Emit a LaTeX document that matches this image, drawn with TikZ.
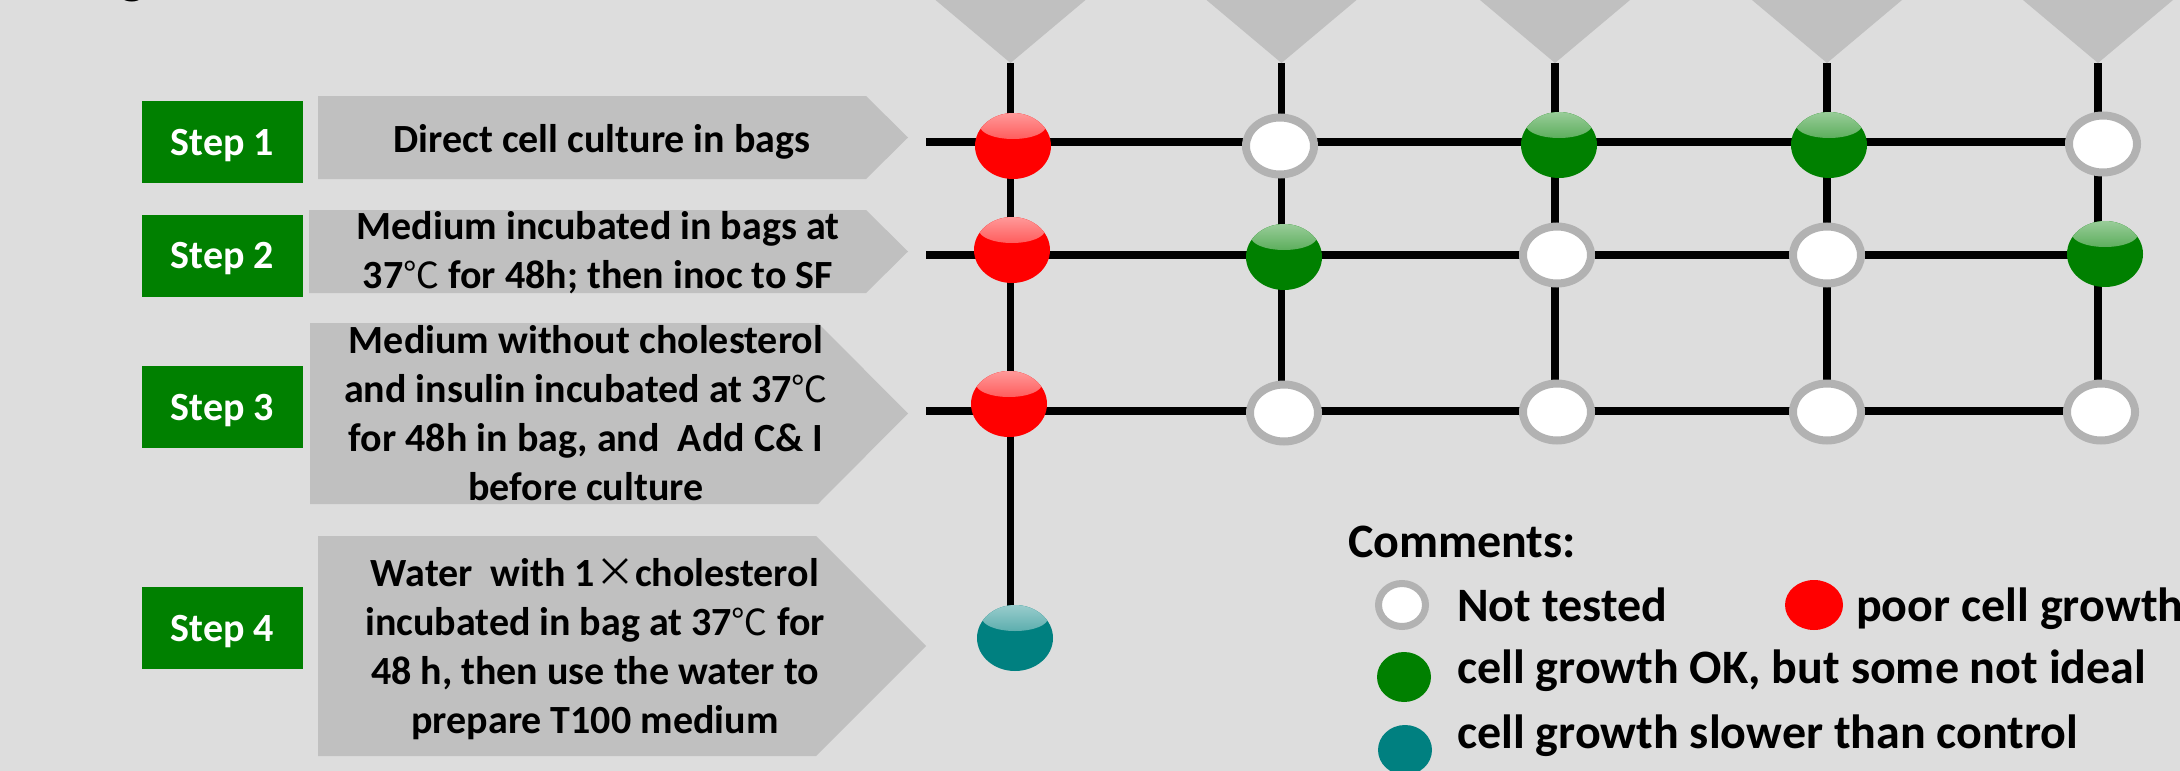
\documentclass[tikz,border=0pt]{standalone}
\usepackage{fontspec}
\setmainfont{Carlito}
\newfontfamily\cjkfont{Noto Sans CJK SC}
\usetikzlibrary{shapes.geometric}

\newcommand\myDegC{{\cjkfont\mdseries\fontsize{36}{49}\selectfont ℃}}
\newcommand\myTimes{{\cjkfont\mdseries\fontsize{40}{49}\selectfont ×}}

\definecolor{bgcol}{HTML}{DDDDDD}
\definecolor{chevgray}{HTML}{C0C0C0}
\definecolor{stepgreen}{HTML}{008000}
\definecolor{dotred}{HTML}{FF0000}
\definecolor{dotgreen}{HTML}{008000}
\definecolor{dotteal}{HTML}{008080}
\definecolor{ringgray}{HTML}{B2B2B2}

\pgfdeclarelayer{canvas}
\pgfdeclarelayer{back}
\pgfsetlayers{canvas,back,main}

\tikzset{
  stepbox/.style={fill=stepgreen, text=white, inner sep=0pt,
    font=\bfseries\fontsize{40}{48}\selectfont,
    minimum width=161pt, minimum height=82pt, text height=26pt, text depth=0pt},
  chev/.style={fill=chevgray},
  desc/.style={font=\bfseries\fontsize{40}{49}\selectfont, align=center, inner sep=0pt},
  legtext/.style={font=\bfseries\fontsize{48}{58}\selectfont, inner sep=0pt, anchor=base west},
  gridline/.style={line width=7.5pt, black},
  glossy/.style={ellipse, inner sep=0pt, minimum width=76pt, minimum height=66pt, fill=#1,
    path picture={\shade[top color=#1!40!white, bottom color=#1]
      ([yshift=-13pt]path picture bounding box.north) ellipse [x radius=33pt, y radius=13pt];}},
  untested/.style={ellipse, inner sep=0pt, minimum width=68pt, minimum height=57pt,
    fill=white, draw=ringgray, line width=8pt},
  legdot/.style={ellipse, inner sep=0pt, minimum width=#1, minimum height=50pt},
  legring/.style={ellipse, inner sep=0pt, minimum width=47pt, minimum height=43pt,
    fill=white, draw=ringgray, line width=7pt},
}

\begin{document}
\begin{tikzpicture}[x=1pt, y=-1pt]
\useasboundingbox (0,0) rectangle (2180,771);
\begin{pgfonlayer}{canvas}
  \fill[bgcol] (0,0) rectangle (2180,771);
\end{pgfonlayer}
\clip (0,0) rectangle (2180,771);

% tail of the heading above the frame
\node[font=\bfseries\fontsize{56}{60}\selectfont, inner sep=0pt, anchor=base west] (head) at (119,-8) {g};

% step labels
\node[stepbox] (s1lab) at (222.5,142) {Step 1};
\node[stepbox] (s2lab) at (222.5,255.5) {Step 2};
\node[stepbox] (s3lab) at (222.5,407) {Step 3};
\node[stepbox] (s4lab) at (222.5,628) {Step 4};

% chevron panels
\fill[chev] (318,96) -- (866,96) -- (908,137.5) -- (866,179) -- (318,179) -- cycle;
\fill[chev] (309,210) -- (866,210) -- (908,251.5) -- (866,293) -- (309,293) -- cycle;
\fill[chev] (310,323) -- (818,323) -- (908,413.5) -- (818,504) -- (310,504) -- cycle;
\fill[chev] (318,536) -- (816,536) -- (926,646) -- (816,756) -- (318,756) -- cycle;

\node[desc, anchor=base] (d1) at (602,152) {Direct cell culture in bags};
\node[desc] (d2) at (598,253) {Medium incubated in bags at\\37\myDegC{} for 48h; then inoc to SF};
\node[desc] (d3) at (586,413) {Medium without cholesterol\\and insulin incubated at 37\myDegC\\for 48h in bag, and\ \ Add C\& I\\before culture};
\node[desc] (d4) at (595,649) {Water\ \ with 1\myTimes cholesterol\\incubated in bag at 37\myDegC{} for\\48 h, then use the water to\\prepare T100 medium};

% column heads and row starts
\coordinate (t1) at (1010.5,63);
\coordinate (t2) at (1281.5,63);
\coordinate (t3) at (1555,63);
\coordinate (t4) at (1827,63);
\coordinate (t5) at (2098,63);
\coordinate (r1) at (926,142);
\coordinate (r2) at (926,255);
\coordinate (r3) at (926,411);

\foreach \t in {t1,t2,t3,t4,t5}
  \fill[chev] (\t) -- ++(-75,-63) -- ++(150,0) -- cycle;

% results grid
\node[glossy=dotred]   (c11) at (1013,146) {};
\node[untested]        (c12) at (1280,146) {};
\node[glossy=dotgreen] (c13) at (1559,145) {};
\node[glossy=dotgreen] (c14) at (1829,145) {};
\node[untested]        (c15) at (2103,144) {};

\node[glossy=dotred]   (c21) at (1012,250) {};
\node[glossy=dotgreen] (c22) at (1284,257) {};
\node[untested]        (c23) at (1557,255) {};
\node[untested]        (c24) at (1827,255) {};
\node[glossy=dotgreen] (c25) at (2105,254) {};

\node[glossy=dotred]   (c31) at (1009,404) {};
\node[untested]        (c32) at (1284,413) {};
\node[untested]        (c33) at (1557,412) {};
\node[untested]        (c34) at (1827,412) {};
\node[untested]        (c35) at (2101,412) {};

\node[glossy=dotteal]  (c41) at (1015,638) {};

\begin{pgfonlayer}{back}
  \draw[gridline] (r1) -- (r1 -| t5);
  \draw[gridline] (r2) -- (r2 -| t5);
  \draw[gridline] (r3) -- (r3 -| t5);
  \draw[gridline] (t1) -- (t1 |- c41.center);
  \draw[gridline] (t2) -- (t2 |- c32.center);
  \draw[gridline] (t3) -- (t3 |- c33.center);
  \draw[gridline] (t4) -- (t4 |- c34.center);
  \draw[gridline] (t5) -- (t5 |- c35.center);
\end{pgfonlayer}

% legend
\node[legtext] (cm) at (1348,557) {Comments:};
\node[legring] (l1) at (1402,605) {};
\node[legdot=58pt, fill=dotred] (l2) at (1814,605) {};
\node[legdot=54pt, fill=dotgreen] (l3) at (1404,677) {};
\node[legdot=54pt, fill=dotteal] (l4) at (1405,750) {};
\node[legtext] (lt1) at (1457,621) {Not tested};
\node[legtext] (lt2) at (1856,621) {poor cell growth};
\node[legtext] (lt3) at (1457,683) {cell growth OK, but some not ideal};
\node[legtext] (lt4) at (1457,748) {cell growth slower than control};
\end{tikzpicture}
\end{document}
